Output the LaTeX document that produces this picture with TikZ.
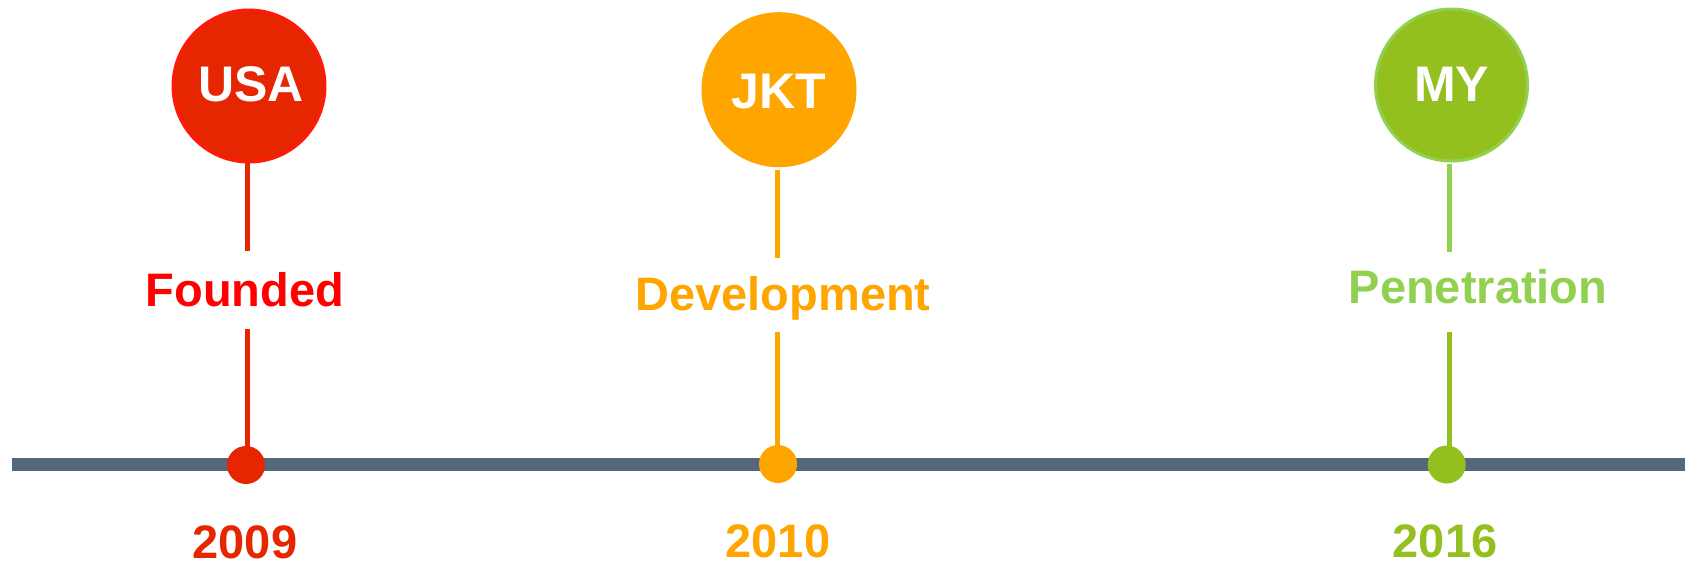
\documentclass[tikz,border=0pt]{standalone}
\usepackage{fontspec}
\setmainfont{Liberation Sans}
\definecolor{usafill}{HTML}{E52600}
\definecolor{usaline}{HTML}{FF1A0A}
\definecolor{foundred}{HTML}{FF0000}
\definecolor{jktfill}{HTML}{FFA500}
\definecolor{myfill}{HTML}{93C01F}
\definecolor{myline}{HTML}{92D050}
\definecolor{barcol}{HTML}{54677B}
\tikzset{
  bigcircle/.style={circle, minimum size=152pt, inner sep=0pt, line width=3pt},
  dotmark/.style={circle, minimum size=38pt, inner sep=0pt},
  bigtxt/.style={anchor=base, inner sep=0pt, font=\fontsize{50}{60}\selectfont\bfseries, text=white},
  labtxt/.style={anchor=base, inner sep=0pt, font=\fontsize{47}{56}\selectfont\bfseries},
  stem/.style={line width=5pt},
}
\begin{document}
\begin{tikzpicture}[x=1pt, y=-1pt]
\useasboundingbox (0,0) rectangle (1685,563);
% bar
\coordinate (barL) at (12,464.3);
\coordinate (barR) at (1685,464.3);
\draw[barcol, line width=12.7pt] (barL) -- (barR);

% USA
\coordinate (u1) at (247,163);
\coordinate (u2) at (247,251);
\coordinate (u3) at (247,329);
\coordinate (u4) at (247,460);
\draw[stem, usafill] (u1) -- (u2);
\draw[stem, usafill] (u3) -- (u4);
\node[bigcircle, fill=usafill, draw=usaline] (cUSA) at (249,86) {};
\node[bigtxt] (tUSA) at (251,101.7) {USA};
\node[dotmark, fill=usafill] (dUSA) at (246,465) {};
\node[labtxt, text=foundred] (lUSA) at (245,306.7) {Founded};
\node[labtxt, text=usafill] (yUSA) at (245,558) {2009};

% JKT
\coordinate (j1) at (777,170);
\coordinate (j2) at (777,258);
\coordinate (j3) at (777,332);
\coordinate (j4) at (777,460);
\draw[stem, jktfill] (j1) -- (j2);
\draw[stem, jktfill] (j3) -- (j4);
\node[bigcircle, fill=jktfill, draw=jktfill] (cJKT) at (779,89.7) {};
\node[bigtxt] (tJKT) at (779,108.3) {JKT};
\node[dotmark, fill=jktfill] (dJKT) at (778,464) {};
\node[labtxt, text=jktfill] (lJKT) at (783,310) {Development};
\node[labtxt, text=jktfill] (yJKT) at (778,557.5) {2010};

% MY
\coordinate (m1) at (1449,164);
\coordinate (m2) at (1449,252);
\coordinate (m3) at (1449,332);
\coordinate (m4) at (1449,460);
\draw[stem, myline] (m1) -- (m2);
\draw[stem, myfill] (m3) -- (m4);
\node[bigcircle, fill=myfill, draw=myline] (cMY) at (1451.5,85) {};
\node[bigtxt] (tMY) at (1451.7,101.7) {MY};
\node[dotmark, fill=myfill] (dMY) at (1446.7,464.5) {};
\node[labtxt, text=myline] (lMY) at (1478,303.3) {Penetration};
\node[labtxt, text=myfill] (yMY) at (1445,557.5) {2016};
\end{tikzpicture}
\end{document}
